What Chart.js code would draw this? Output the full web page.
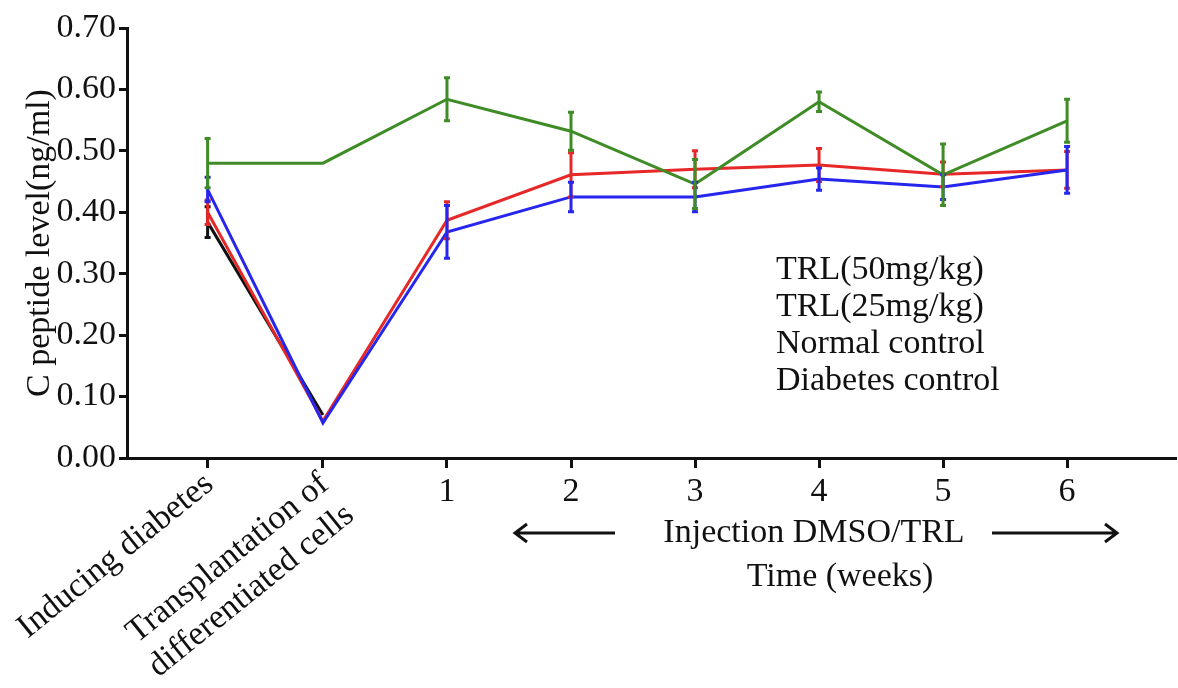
<!DOCTYPE html>
<html>
<head>
<meta charset="utf-8">
<script src="https://cdn.jsdelivr.net/npm/chart.js@4"></script>
<style>
  html, body { margin: 0; padding: 0; background: #fff; }
  #wrap { width: 1178px; height: 688px; }
</style>
</head>
<body>
<div id="wrap"><canvas id="myCanvas" width="1178" height="688"></canvas></div>
<script>
// categories on the x axis (position = week, transplantation is week 0)
const xLabels = ["Inducing diabetes", ["Transplantation of", "differentiated cells"], "1", "2", "3", "4", "5", "6"];
const xPos = [-0.93, 0, 1, 2, 3, 4, 5, 6];

// series (ng/ml) and their error bars
const normalControl = [0.48, 0.48, 0.584, 0.532, 0.446, 0.58, 0.461, 0.549];
const normalErr = [0.04, null, 0.035, 0.031, 0.04, 0.016, 0.05, 0.035];
const trl50 = [0.40, 0.06, 0.387, 0.461, 0.470, 0.477, 0.462, 0.469];
const trl50Err = [0.02, null, 0.03, 0.036, 0.03, 0.027, 0.02, 0.03];
const trl25 = [0.437, 0.057, 0.368, 0.425, 0.425, 0.454, 0.441, 0.469];
const trl25Err = [0.02, null, 0.043, 0.024, 0.024, 0.018, 0.02, 0.038];
const diabetesControl = [0.384, 0.07];
const diabetesErr = [0.025, null];

const legendLabels = ["TRL(50mg/kg)", "TRL(25mg/kg)", "Normal control", "Diabetes control"];
const yTicks = [0, 0.1, 0.2, 0.3, 0.4, 0.5, 0.6, 0.7];

const serif = '"Liberation Serif", "Times New Roman", serif';

function pts(vals) {
  return vals.map((v, i) => ({ x: xPos[i], y: v }));
}

const errorBars = {
  id: "errorBars",
  afterDatasetsDraw(chart) {
    const ctx = chart.ctx;
    const xs = chart.scales.x, ys = chart.scales.y;
    chart.data.datasets.forEach((ds) => {
      if (!ds.err) return;
      ctx.save();
      ctx.strokeStyle = ds.borderColor;
      ctx.lineWidth = 3;
      ds.data.forEach((p, i) => {
        const e = ds.err[i];
        if (e == null) return;
        const px = xs.getPixelForValue(p.x);
        const top = ys.getPixelForValue(p.y + e);
        const bot = ys.getPixelForValue(p.y - e);
        ctx.beginPath();
        ctx.moveTo(px, top);
        ctx.lineTo(px, bot);
        ctx.moveTo(px - 3, top);
        ctx.lineTo(px + 3, top);
        ctx.moveTo(px - 3, bot);
        ctx.lineTo(px + 3, bot);
        ctx.stroke();
      });
      ctx.restore();
    });
  }
};

const extraText = {
  id: "extraText",
  afterDraw(chart) {
    const ctx = chart.ctx;
    const xs = chart.scales.x;
    ctx.save();
    ctx.fillStyle = "#111";
    ctx.font = "34px " + serif;

    // legend (text only)
    ctx.textAlign = "left";
    ctx.textBaseline = "middle";
    legendLabels.forEach((t, i) => ctx.fillText(t, 776, 270 + i * 37));

    // rotated category labels
    [0, 1].forEach((i) => {
      const px = xs.getPixelForValue(xPos[i]);
      const lines = Array.isArray(xLabels[i]) ? xLabels[i] : [xLabels[i]];
      ctx.save();
      ctx.translate(px - 9, 467);
      ctx.rotate(-39 * Math.PI / 180);
      ctx.textAlign = "right";
      ctx.textBaseline = "top";
      lines.forEach((l, k) => ctx.fillText(l, 0, k * 40));
      ctx.restore();
    });

    // injection period annotation
    ctx.textAlign = "center";
    ctx.textBaseline = "middle";
    ctx.fillText("Injection DMSO/TRL", 814, 533);
    ctx.fillText("Time (weeks)", 840, 577);

    ctx.strokeStyle = "#111";
    ctx.lineWidth = 3;
    ctx.beginPath();
    ctx.moveTo(515, 533); ctx.lineTo(615, 533);
    ctx.moveTo(527, 524); ctx.lineTo(515, 533); ctx.lineTo(527, 542);
    ctx.moveTo(992, 533); ctx.lineTo(1117, 533);
    ctx.moveTo(1105, 524); ctx.lineTo(1117, 533); ctx.lineTo(1105, 542);
    ctx.stroke();
    ctx.restore();
  }
};

function lineSet(label, vals, err, color, order) {
  return {
    label: label,
    data: pts(vals),
    err: err,
    borderColor: color,
    backgroundColor: color,
    borderWidth: 3,
    pointRadius: 0,
    tension: 0,
    order: order
  };
}

new Chart(document.getElementById("myCanvas"), {
  type: "line",
  data: {
    datasets: [
      lineSet("Diabetes control", diabetesControl, diabetesErr, "#111111", 4),
      lineSet("TRL(50mg/kg)", trl50, trl50Err, "#e62828", 3),
      lineSet("TRL(25mg/kg)", trl25, trl25Err, "#2626ee", 2),
      lineSet("Normal control", normalControl, normalErr, "#3f8c26", 1)
    ]
  },
  options: {
    responsive: false,
    animation: false,
    layout: { padding: { top: 28, right: 3, left: 0, bottom: 0 } },
    plugins: {
      legend: { display: false },
      tooltip: { enabled: false }
    },
    scales: {
      x: {
        type: "linear",
        min: -1.58,
        max: 6.87,
        afterBuildTicks: (s) => { s.ticks = xPos.map((v) => ({ value: v })); },
        afterFit: (s) => { s.height = 230; },
        ticks: {
          maxRotation: 0,
          autoSkip: false,
          padding: 4,
          color: "#111",
          font: { family: serif, size: 34 },
          callback: (v, i) => (typeof xLabels[i] === "string" && xLabels[i].length < 3 ? xLabels[i] : "")
        },
        grid: { drawOnChartArea: false, drawTicks: true, tickLength: 10, color: "#111", lineWidth: 3 },
        border: { display: true, color: "#111", width: 3 }
      },
      y: {
        min: 0,
        max: 0.7,
        afterBuildTicks: (s) => { s.ticks = yTicks.map((v) => ({ value: v })); },
        afterFit: (s) => { s.width = 127; },
        ticks: {
          padding: 3,
          color: "#111",
          font: { family: serif, size: 34 },
          callback: (v) => Number(v).toFixed(2)
        },
        title: {
          display: true,
          text: "C peptide level(ng/ml)",
          color: "#111",
          font: { family: serif, size: 34 },
          padding: { top: 20, bottom: 0 }
        },
        grid: { drawOnChartArea: false, drawTicks: true, tickLength: 8, color: "#111", lineWidth: 3 },
        border: { display: true, color: "#111", width: 3 }
      }
    }
  },
  plugins: [errorBars, extraText]
});
</script>
</body>
</html>
